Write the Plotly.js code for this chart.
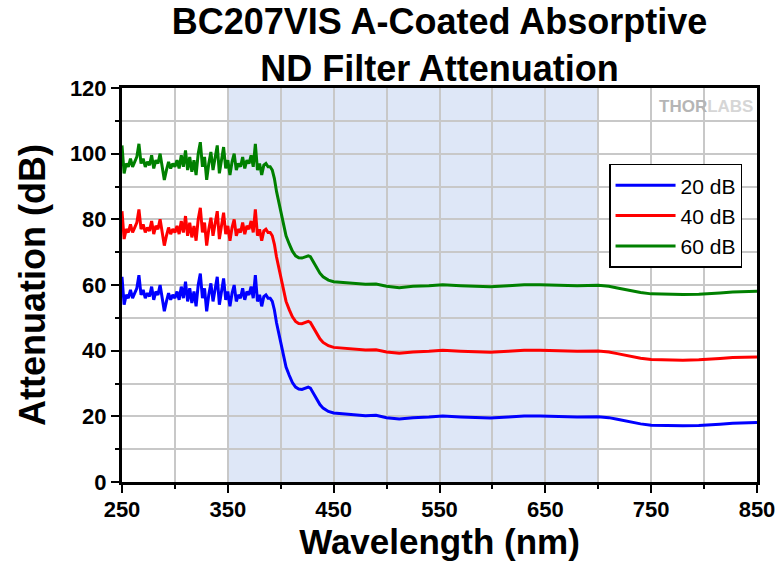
<!DOCTYPE html>
<html>
<head>
<meta charset="utf-8">
<script src="https://cdn.plot.ly/plotly-3.0.1.min.js"></script>
<style>html,body{margin:0;padding:0;background:#fff;}#chart{width:780px;height:564px;}</style>
</head>
<body>
<div id="chart"></div>
<script>
const wavelength = [250,252,254,256,258,260,262,264,266,268,270,272,274,276,278,280,282,284,286,288,290,292,294,296,298,300,302,304,306,308,310,312,314,316,318,320,322,324,326,328,330,332,334,336,338,340,342,344,346,348,350,352,354,356,358,360,362,364,366,368,370,372,374,376,378,380,382,384,386,388,390,
392,394,396,398,400,402,405,408,411,414,417,420,423,426,428,431,434,437,440,445,450,460,470,480,490,500,512,525,540,553,570,585,598,615,630,645,660,680,700,710,718,730,740,750,765,780,795,806,815,827,840,850];

const att20 = [62.5,54,57,56,58.5,56,57.5,59,63,57,58.5,56,57.5,56.5,59.5,55.5,58,57,60,56,52,55,57.5,55.5,57,56,58,55.5,59.5,56,61,55,59,54.5,58,53.5,60,63.5,56,59,52,57,60.5,55,58.5,62.5,54,58,62,55.5,58,53.5,57.5,60,55,57,56,59,55.5,58,57,59.5,56,63,55,57,53.5,56.5,57,56,56,
55,52.4,48.5,45.5,42,38.5,35,32.5,30.3,28.9,28.3,28.2,28.5,28.9,28.6,27,25,23.6,22.5,21.5,21,20.8,20.6,20.2,20.3,19.6,19.2,19.6,19.8,20.1,19.8,19.6,19.5,19.8,20.1,20.1,19.9,19.8,19.9,19.6,19.1,18.3,17.7,17.3,17.1,17.1,17.2,17.3,17.6,17.9,18,18.1];

const att40 = [82.5,74,77,76,78.5,76,77.5,79,83,77,78.5,76,77.5,76.5,79.5,75.5,78,77,80,76,72,75,77.5,75.5,77,76,78,75.5,79.5,76,81,75,79,74.5,78,73.5,80,83.5,76,79,72,77,80.5,75,78.5,82.5,74,78,82,75.5,78,73.5,77.5,80,75,77,76,79,75.5,78,77,79.5,76,83,75,77,73.5,76.5,77,76,76,
75,72.4,68.5,65.5,62,58.5,55,52.5,50.3,48.9,48.3,48.2,48.5,48.9,48.6,47,45,43.6,42.5,41.5,41,40.8,40.6,40.2,40.3,39.6,39.2,39.6,39.8,40.1,39.8,39.6,39.5,39.8,40.1,40.1,39.9,39.8,39.9,39.6,39.1,38.3,37.7,37.3,37.1,37.1,37.2,37.3,37.6,37.9,38,38.1];

const att60 = [102.5,94,97,96,98.5,96,97.5,99,103,97,98.5,96,97.5,96.5,99.5,95.5,98,97,100,96,92,95,97.5,95.5,97,96,98,95.5,99.5,96,101,95,99,94.5,98,93.5,100,103.5,96,99,92,97,100.5,95,98.5,102.5,94,98,102,95.5,98,93.5,97.5,100,95,97,96,99,95.5,98,97,99.5,96,103,95,97,93.5,96.5,97,96,96,
95,92.4,88.5,85.5,82,78.5,75,72.5,70.3,68.9,68.3,68.2,68.5,68.9,68.6,67,65,63.6,62.5,61.5,61,60.8,60.6,60.2,60.3,59.6,59.2,59.6,59.8,60.1,59.8,59.6,59.5,59.8,60.1,60.1,59.9,59.8,59.9,59.6,59.1,58.3,57.7,57.3,57.1,57.1,57.2,57.3,57.6,57.9,58,58.1];

const seriesNames = ['20 dB', '40 dB', '60 dB'];
const seriesColors = ['#0000ff', '#ff0000', '#008000'];
const shadedBand = [350, 700];

const FONT = 'Liberation Sans, Arial, Helvetica, sans-serif';

const traces = [att20, att40, att60].map((y, i) => ({
  x: wavelength, y: y, type: 'scatter', mode: 'lines', name: seriesNames[i],
  line: {color: seriesColors[i], width: 3}
}));

const axisCommon = {
  showline: true, mirror: true, linecolor: '#000', linewidth: 3,
  ticks: 'outside', ticklen: 8, tickwidth: 2, tickcolor: '#000',
  showgrid: true, gridcolor: '#c8c8c8', gridwidth: 2, zeroline: false,
  tickfont: {family: FONT, size: 22, color: '#000', weight: 'bold'}
};

const layout = {
  width: 780, height: 564,
  margin: {l: 122, r: 23, t: 88, b: 82},
  paper_bgcolor: '#fff', plot_bgcolor: '#fff',
  showlegend: true,
  title: {
    text: 'BC207VIS A-Coated Absorptive<br>ND Filter Attenuation',
    x: 0.5, xref: 'paper', y: 0.94, yref: 'container', yanchor: 'middle',
    font: {family: FONT, size: 36, color: '#000', weight: 'bold'}
  },
  xaxis: Object.assign({}, axisCommon, {
    range: [250, 850], dtick: 100, tick0: 250, ticklabelstandoff: -2,
    minor: {dtick: 50, ticklen: 4, tickwidth: 2, tickcolor: '#000', ticks: 'outside', showgrid: true, gridcolor: '#c8c8c8', gridwidth: 2},
    title: {text: 'Wavelength (nm)', standoff: 7, font: {family: FONT, size: 35, color: '#000', weight: 'bold'}}
  }),
  yaxis: Object.assign({}, axisCommon, {
    range: [0, 120], dtick: 20, tick0: 0,
    minor: {dtick: 10, ticklen: 4, tickwidth: 2, tickcolor: '#000', ticks: 'outside', showgrid: true, gridcolor: '#c8c8c8', gridwidth: 2},
    title: {text: 'Attenuation (dB)', standoff: 14, font: {family: FONT, size: 36, color: '#000', weight: 'bold'}}
  }),
  legend: {
    x: 0.767, y: 0.808, xanchor: 'left', yanchor: 'top',
    bgcolor: '#fff', bordercolor: '#000', borderwidth: 1.5,
    font: {family: FONT, size: 21, color: '#000'},
    itemwidth: 60
  },
  shapes: [{
    type: 'rect', xref: 'x', yref: 'paper', x0: shadedBand[0], x1: shadedBand[1], y0: 0, y1: 1,
    fillcolor: '#dee7f7', line: {width: 0}, layer: 'below'
  }],
  annotations: [{
    xref: 'paper', yref: 'paper', x: 0.997, y: 0.952, xanchor: 'right', yanchor: 'middle',
    text: '<b>THOR</b><span style="color:#d6d6d6"><b>LABS</b></span>', showarrow: false,
    font: {family: FONT, size: 17, color: '#b5b5b5'}
  }]
};

Plotly.newPlot('chart', traces, layout, {displayModeBar: false, responsive: false});
</script>
</body>
</html>
